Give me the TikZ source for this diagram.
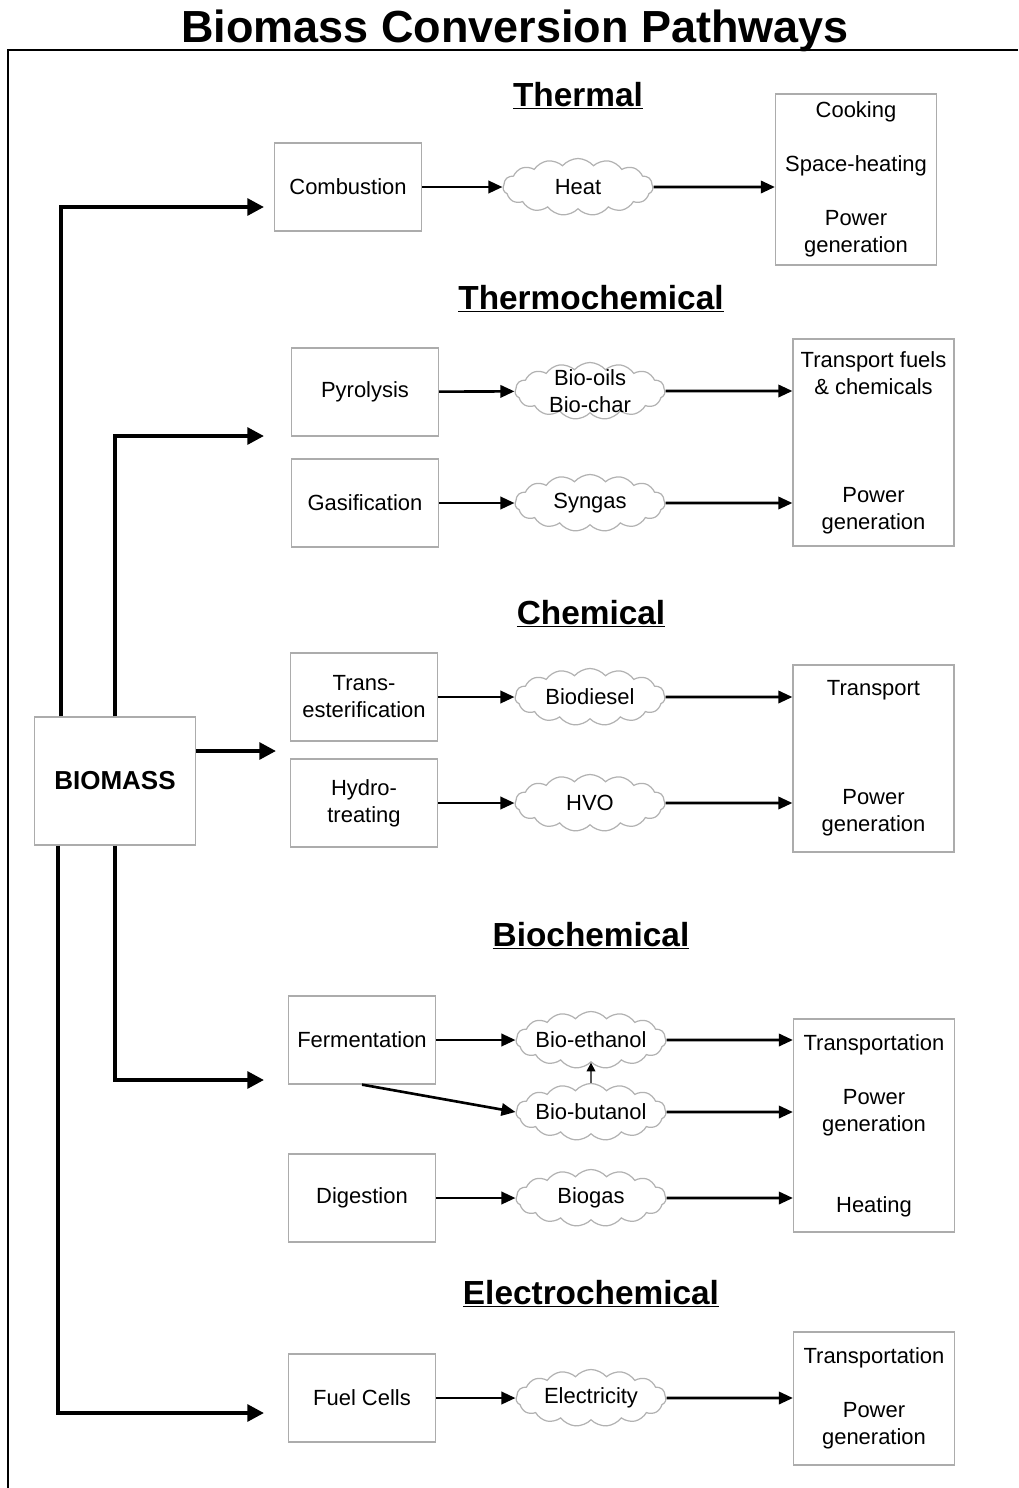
\documentclass[tikz,border=0pt]{standalone}
\usepackage{fontspec}
\setmainfont{Liberation Sans}
\usetikzlibrary{shapes.symbols,arrows.meta}
\begin{document}
\begin{tikzpicture}[x=0.02cm,y=-0.02cm,
  font=\fontsize{12.5}{15.4}\selectfont,
  box/.style={draw=gray!65,line width=0.7pt,fill=white,align=center,inner sep=0pt},
  proc/.style={box,minimum width=2.94cm,minimum height=1.76cm},
  outbox/.style={box,minimum width=3.22cm},
  cloudy/.style={cloud,cloud puffs=15,cloud puff arc=100,cloud ignores aspect,draw=gray!60,line width=0.7pt,
     minimum width=3.0cm,minimum height=1.14cm,inner sep=0pt},
  arr/.style={line width=1.5pt,-{Triangle[length=8pt,width=7pt]}},
  trunk/.style={line width=2.2pt,-{Triangle[length=9.5pt,width=9.5pt]}},
  head/.style={font=\fontsize{19}{22}\selectfont\bfseries,anchor=base,inner sep=0pt},
  every label/.style={align=center,anchor=center}]
\useasboundingbox (0,0) rectangle (1018,1488);
\draw[line width=1.3pt] (1018,50) coordinate (fr1) -- (8,50) coordinate (fr2) -- (8,1488) coordinate (fr3);
\node[font=\fontsize{25.6}{30}\selectfont\bfseries,anchor=base] (title) at (515,42) {Biomass Conversion Pathways};

% headings
\node[head] (hthermal) at (578,106) {\underline{Thermal}};
\node[head] (hthermo) at (591,309) {\underline{Thermochemical}};
\node[head] (hchem) at (591,624) {\underline{Chemical}};
\node[head] (hbio) at (591,946) {\underline{Biochemical}};
\node[head] (helec) at (591,1304) {\underline{Electrochemical}};

% BIOMASS
\node[box,minimum width=3.22cm,minimum height=2.56cm,font=\fontsize{14.8}{18}\selectfont\bfseries] (bio) at (115,781) {BIOMASS};

% Thermal
\node[proc] (comb) at (348,187) {Combustion};
\node[cloudy,label=center:Heat] (heat) at (578,187) {};
\node[outbox,minimum height=3.42cm] (outth) at (856,179.5) {Cooking\\[15.4pt]Space-heating\\[15.4pt]Power\\generation};

% Thermochemical
\node[proc] (pyro) at (365,392) {Pyrolysis};
\node[cloudy,label={center:{Bio-oils\\Bio-char}}] (oils) at (590,391) {};
\node[proc] (gasi) at (365,503) {Gasification};
\node[cloudy,label=center:Syngas] (syn) at (590,503) {};
\node[outbox,minimum height=4.14cm] (outtc) at (873.5,442.5) {Transport fuels\\\& chemicals\\[46.1pt]Power\\generation};

% Chemical
\node[proc] (trans) at (364,697) {Trans-\\esterification};
\node[cloudy,label=center:Biodiesel] (bdsl) at (590,697) {};
\node[proc] (hydro) at (364,803) {Hydro-\\treating};
\node[cloudy,label=center:HVO] (hvo) at (590,803) {};
\node[outbox,minimum height=3.74cm] (outch) at (873.5,758.5) {Transport\\[46.7pt]Power\\generation};

% Biochemical
\node[proc] (ferm) at (362,1040) {Fermentation};
\node[cloudy,label=center:Bio-ethanol] (eth) at (591,1040) {};
\node[cloudy,label=center:Bio-butanol] (but) at (591,1112) {};
\node[proc] (dig) at (362,1198) {Digestion};
\node[cloudy,label=center:Biogas] (gas) at (591,1198) {};
\node[outbox,minimum height=4.26cm] (outbc) at (874,1125.5) {Transportation\\[15.4pt]Power\\generation\\[30.8pt]Heating};

% Electrochemical
\node[proc] (fuel) at (362,1398) {Fuel Cells};
\node[cloudy,label=center:Electricity] (elec) at (591,1398) {};
\node[outbox,minimum height=2.66cm] (outec) at (874,1398.5) {Transportation\\[15.4pt]Power\\generation};

% trunk endpoints
\coordinate (t1) at (264,207);
\coordinate (t2) at (264,436);
\coordinate (t3) at (276,751);
\coordinate (t4) at (264,1080);
\coordinate (t5) at (264,1413);
\draw[trunk] (bio.north -| 61,0) |- (t1);
\draw[trunk] (bio.north -| 115,0) |- (t2);
\draw[trunk] (bio.east |- t3) -- (t3);
\draw[trunk] (bio.south -| 115,0) |- (t4);
\draw[trunk] (bio.south -| 58,0) |- (t5);

% process arrows
\draw[arr] (comb) -- (heat);
\draw[arr] (heat) -- (heat -| outth.west);
\draw[arr] (pyro) -- (oils);
\draw[arr] (oils) -- (oils -| outtc.west);
\draw[arr] (gasi) -- (syn);
\draw[arr] (syn) -- (syn -| outtc.west);
\draw[arr] (trans) -- (bdsl);
\draw[arr] (bdsl) -- (bdsl -| outch.west);
\draw[arr] (hydro) -- (hvo);
\draw[arr] (hvo) -- (hvo -| outch.west);
\draw[arr] (ferm) -- (eth);
\draw[arr] (eth) -- (eth -| outbc.west);
\draw[arr] (ferm.south) -- (but.west);
\draw[line width=0.6pt,-{Triangle[length=5pt,width=5pt]}] (but.north) -- (eth.south);
\draw[arr] (but) -- (but -| outbc.west);
\draw[arr] (dig) -- (gas);
\draw[arr] (gas) -- (gas -| outbc.west);
\draw[arr] (fuel) -- (elec);
\draw[arr] (elec) -- (elec -| outec.west);
\end{tikzpicture}
\end{document}
